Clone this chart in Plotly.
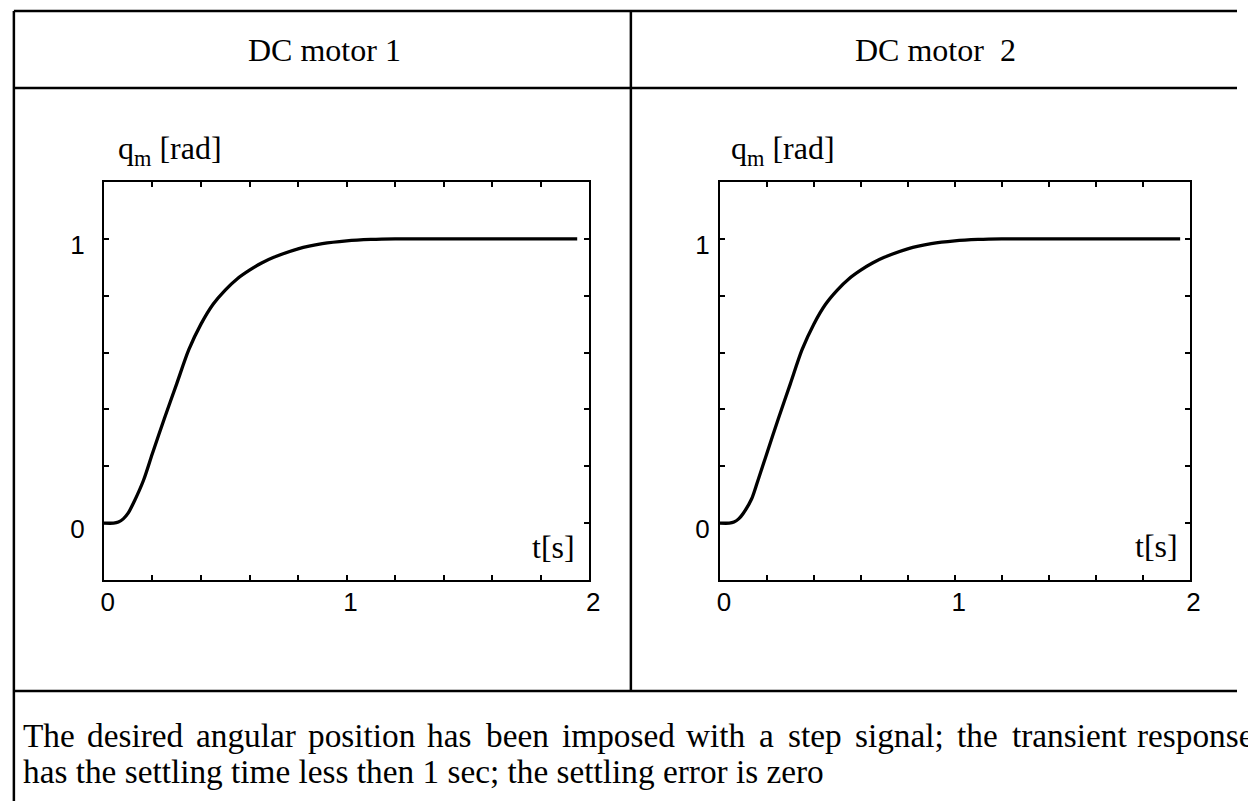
import plotly.graph_objects as go

W, H = 1248, 801

# ---------------- data ----------------
t_motor1 = [0, 0.04, 0.06, 0.08, 0.10, 0.126, 0.163, 0.20, 0.25, 0.30, 0.35, 0.40, 0.45,
            0.50, 0.55, 0.60, 0.65, 0.70, 0.80, 0.90, 1.00, 1.10, 1.20, 1.40, 1.60, 1.80, 1.95]
q_motor1 = [0, 0, 0.004, 0.015, 0.035, 0.078, 0.15, 0.245, 0.37, 0.49, 0.61, 0.70, 0.77,
            0.82, 0.86, 0.89, 0.915, 0.935, 0.965, 0.983, 0.993, 0.998, 1.0, 1.0, 1.0, 1.0, 1.0]
t_motor2 = [0, 0.04, 0.06, 0.08, 0.10, 0.135, 0.16, 0.20, 0.25, 0.30, 0.35, 0.40, 0.45,
            0.50, 0.55, 0.60, 0.65, 0.70, 0.80, 0.90, 1.00, 1.10, 1.20, 1.40, 1.60, 1.80, 1.96]
q_motor2 = [0, 0, 0.004, 0.015, 0.035, 0.085, 0.145, 0.245, 0.37, 0.49, 0.61, 0.70, 0.77,
            0.82, 0.86, 0.89, 0.915, 0.935, 0.965, 0.983, 0.993, 0.998, 1.0, 1.0, 1.0, 1.0, 1.0]

x_tick_vals = [0, 1, 2]
x_tick_text = ["0", "1", "2"]
y_tick_vals = [0, 1]
y_tick_text = ["0", "1"]

headers = ["DC motor 1", "DC motor  2"]
y_label = "q<sub>m</sub> [rad]"
x_label = "t[s]"
line1_words = ["The", "desired", "angular", "position", "has", "been", "imposed",
               "with", "a", "step", "signal;", "the", "transient", "response"]
line2_text = "has the settling time less then 1 sec; the settling error is zero"

# ---------------- helpers ----------------
def px(x):
    return x / W

def py(y):
    return 1 - y / H

SERIF = "Palatino Linotype, Book Antiqua, Liberation Serif, serif"
SANS = "Arial, Liberation Sans, sans-serif"
FS = 32
FS_PAR = 33.3
LEFT_FIX = -3  # compensation for annotation padding with left anchor

fig = go.Figure()
fig.add_trace(go.Scatter(x=t_motor1, y=q_motor1, mode="lines",
                         line=dict(color="black", width=3.3, shape="spline", smoothing=0.8),
                         xaxis="x", yaxis="y", showlegend=False, hoverinfo="skip"))
fig.add_trace(go.Scatter(x=t_motor2, y=q_motor2, mode="lines",
                         line=dict(color="black", width=3.3, shape="spline", smoothing=0.8),
                         xaxis="x2", yaxis="y2", showlegend=False, hoverinfo="skip"))

def xaxis(domain, anchor):
    return dict(domain=domain, anchor=anchor, range=[0, 2], tickmode="array",
                tickvals=x_tick_vals, ticktext=x_tick_text, ticks="inside", ticklen=5,
                tickwidth=1.5, tickcolor="black", showline=True, linewidth=2, linecolor="black",
                mirror="ticks", showgrid=False, zeroline=False,
                tickfont=dict(family=SANS, size=26, color="black"), ticklabelstandoff=-2,
                ticklabelshift=4,
                minor=dict(dtick=0.2, tick0=0, ticks="inside", ticklen=5, tickwidth=1.5,
                           tickcolor="black", showgrid=False))

def yaxis(domain, anchor, standoff):
    return dict(domain=domain, anchor=anchor, range=[-0.2, 1.2], tickmode="array",
                tickvals=y_tick_vals, ticktext=y_tick_text, ticks="inside", ticklen=5,
                tickwidth=1.5, tickcolor="black", showline=True, linewidth=2, linecolor="black",
                mirror="ticks", showgrid=False, zeroline=False,
                tickfont=dict(family=SANS, size=26, color="black"), ticklabelstandoff=standoff,
                ticklabelshift=6,
                minor=dict(dtick=0.2, tick0=0, ticks="inside", ticklen=5, tickwidth=1.5,
                           tickcolor="black", showgrid=False))

ydom = [py(580), py(182)]
fig.update_layout(
    width=W, height=H, margin=dict(l=0, r=0, t=0, b=0),
    paper_bgcolor="white", plot_bgcolor="white",
    xaxis=xaxis([px(102), px(593)], "y"),
    yaxis=yaxis(ydom, "x", 12),
    xaxis2=xaxis([px(725), px(1200)], "y2"),
    yaxis2=yaxis(ydom, "x2", 3),
)

# ---------------- table frame ----------------
LW = 2.5
shapes = [
    dict(x0=px(11), x1=px(11), y0=py(11), y1=py(801)),       # left border
    dict(x0=px(11), x1=1.0, y0=py(11), y1=py(11)),            # top border
    dict(x0=px(11), x1=1.0, y0=py(88), y1=py(88)),            # header separator
    dict(x0=px(635), x1=px(635), y0=py(11), y1=py(691)),      # column divider
    dict(x0=px(11), x1=1.0, y0=py(691), y1=py(691)),          # row separator
]
for s in shapes:
    fig.add_shape(type="line", xref="paper", yref="paper", line=dict(color="black", width=LW), **s)

ann = []
# headers
for cx, txt in zip([325, 943], headers):
    ann.append(dict(x=px(cx), y=py(50), text=txt, xanchor="center", yanchor="middle",
                    font=dict(family=SERIF, size=FS, color="black")))
# axis labels
for lx in [117, 737]:
    ann.append(dict(x=px(lx), y=py(150), text=y_label, xanchor="left", yanchor="middle",
                    xshift=LEFT_FIX, font=dict(family=SERIF, size=FS, color="black")))
for rx, ry in [(581, 547), (1190, 546)]:
    ann.append(dict(x=px(rx), y=py(ry), text=x_label, xanchor="right", yanchor="middle",
                    font=dict(family=SERIF, size=FS, color="black")))
# paragraph, justified first line (last word runs past the right edge, as in the page)
word_x = [21, 86, 196, 309, 430, 489, 566, 692, 766, 795, 863, 966, 1021, 1148]
for wx, wd in zip(word_x, line1_words):
    ann.append(dict(x=px(wx), y=py(735), text=wd, xanchor="left", yanchor="middle",
                    xshift=LEFT_FIX, font=dict(family=SERIF, size=FS_PAR, color="black")))
ann.append(dict(x=px(21), y=py(771), text=line2_text, xanchor="left", yanchor="middle",
                xshift=LEFT_FIX, font=dict(family=SERIF, size=FS_PAR, color="black")))

for a in ann:
    a.update(xref="paper", yref="paper", showarrow=False)
fig.update_layout(annotations=ann)

fig.write_html("out.html")
